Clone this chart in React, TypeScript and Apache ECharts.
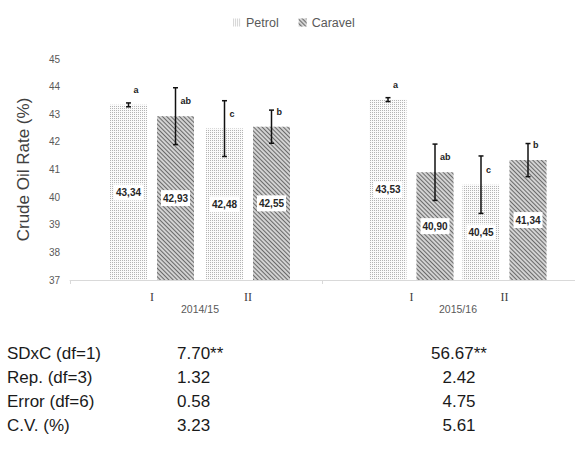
import React, { useEffect, useRef } from "react";
import * as echarts from "echarts";

// ---- data ----
const seriesNames = ["Petrol", "Caravel"];
const categories = ["I", "II"];
const years = ["2014/15", "2015/16"];

const petrol2014 = [43.34, 42.48];
const caravel2014 = [42.93, 42.55];
const petrol2015 = [43.53, 40.45];
const caravel2015 = [40.9, 41.34];

const petrolErr2014 = [0.07, 1.01];
const caravelErr2014 = [1.03, 0.6];
const petrolErr2015 = [0.07, 1.04];
const caravelErr2015 = [1.02, 0.6];

const petrolLetters2014 = ["a", "c"];
const caravelLetters2014 = ["ab", "b"];
const petrolLetters2015 = ["a", "c"];
const caravelLetters2015 = ["ab", "b"];

const yTicks = [37, 38, 39, 40, 41, 42, 43, 44, 45];

const tableRows = ["SDxC (df=1)", "Rep. (df=3)", "Error (df=6)", "C.V. (%)"];
const table2014 = ["7.70**", "1.32", "0.58", "3.23"];
const table2015 = ["56.67**", "2.42", "4.75", "5.61"];

// ---- styles ----
const BAR_W = 37;
const BAR_GAP = 10;
const SANS = "Liberation Sans, Arial, sans-serif";

const petrolStyle = {
  color: "#fbfbfb",
  decal: {
    symbol: "rect",
    symbolSize: 1,
    dashArrayX: [1, 1],
    dashArrayY: [1, 1],
    color: "#b4b4b4",
  },
};
const caravelStyle = {
  color: "#d2d2d2",
  decal: {
    symbol: "rect",
    symbolSize: 1,
    dashArrayX: [1, 0],
    dashArrayY: [1, 1.2],
    rotation: Math.PI / 4,
    color: "#6a6a6a",
  },
};

const fmt = (v: number) => v.toFixed(2).replace(".", ",");

function barSeries(name: string, data: number[], axis: number, style: any) {
  return {
    type: "bar",
    name,
    xAxisIndex: axis,
    yAxisIndex: axis,
    data,
    barWidth: BAR_W,
    barGap: `${Math.round((BAR_GAP / BAR_W) * 100)}%`,
    itemStyle: style,
    label: {
      show: true,
      position: "inside",
      formatter: (p: any) => fmt(p.value),
      backgroundColor: "#ffffff",
      padding: [3, 2],
      fontWeight: "bold",
      fontSize: 10,
      fontFamily: SANS,
      color: "#262626",
    },
  };
}

function errSeries(
  name: string,
  values: number[],
  errs: number[],
  letters: string[],
  axis: number,
  side: number
) {
  const offset = (side * (BAR_W + BAR_GAP)) / 2;
  return {
    type: "custom",
    name,
    xAxisIndex: axis,
    yAxisIndex: axis,
    z: 5,
    data: values.map((v, i) => [i, v, errs[i]]),
    renderItem: (params: any, api: any) => {
      const i = api.value(0);
      const v = api.value(1);
      const e = api.value(2);
      const base = api.coord([i, v]);
      const x = base[0] + offset;
      const yTop = api.coord([i, v + e])[1];
      const yBot = api.coord([i, v - e])[1];
      const st = { stroke: "#111", lineWidth: 1.5 };
      return {
        type: "group",
        children: [
          { type: "line", shape: { x1: x, y1: yTop, x2: x, y2: yBot }, style: st },
          { type: "line", shape: { x1: x - 2.5, y1: yTop, x2: x + 2.5, y2: yTop }, style: st },
          { type: "line", shape: { x1: x - 2.5, y1: yBot, x2: x + 2.5, y2: yBot }, style: st },
          {
            type: "text",
            x: x + 5,
            y: base[1] - 15,
            style: {
              text: letters[params.dataIndex],
              fill: "#222",
              fontSize: 9,
              fontWeight: "bold",
              fontFamily: SANS,
              align: "left",
              verticalAlign: "middle",
            },
          },
        ],
      };
    },
  };
}

export default function App() {
  const ref = useRef<HTMLDivElement>(null);

  useEffect(() => {
    if (!ref.current) return;
    const chart = echarts.init(ref.current, null, { renderer: "svg" });

    const gridTop = 59;
    const gridBottom = 172;

    const hiddenY = (gi: number) => ({
      type: "value",
      gridIndex: gi,
      min: yTicks[0],
      max: yTicks[yTicks.length - 1],
      interval: 1,
      show: false,
    });

    const catX = (gi: number, year: string) => ({
      type: "category",
      gridIndex: gi,
      data: categories,
      axisLine: { show: false },
      axisTick: { show: false },
      axisLabel: {
        fontFamily: "Liberation Serif, DejaVu Serif, serif",
        fontSize: 12,
        color: "#404040",
        margin: 11,
      },
      name: year,
      nameLocation: "middle",
      nameGap: 23,
      nameTextStyle: { fontSize: 10.5, color: "#595959", fontFamily: SANS },
    });

    const rowY = [353, 377, 401, 425];
    const tableFont = { fontSize: 17, fontFamily: SANS, fill: "#1a1a1a" };
    const graphic: any[] = [];
    tableRows.forEach((r, i) => {
      graphic.push({
        type: "text",
        x: 7,
        y: rowY[i],
        style: { ...tableFont, text: r, align: "left", verticalAlign: "middle" },
      });
      graphic.push({
        type: "text",
        x: 177,
        y: rowY[i],
        style: { ...tableFont, text: table2014[i], align: "left", verticalAlign: "middle" },
      });
      graphic.push({
        type: "text",
        x: 459,
        y: rowY[i],
        style: { ...tableFont, text: table2015[i], align: "center", verticalAlign: "middle" },
      });
    });

    chart.setOption({
      animation: false,
      backgroundColor: "#ffffff",
      legend: {
        data: seriesNames,
        left: 228,
        top: 11,
        icon: "rect",
        itemWidth: 8,
        itemHeight: 8,
        itemGap: 20,
        textStyle: { fontSize: 12.5, color: "#595959", fontFamily: SANS },
      },
      grid: [
        { left: 70, right: 0, top: gridTop, bottom: gridBottom },
        { left: 104, width: 192, top: gridTop, bottom: gridBottom },
        { left: 365, width: 186, top: gridTop, bottom: gridBottom },
      ],
      xAxis: [
        {
          type: "category",
          gridIndex: 0,
          data: years,
          axisLine: { show: true, lineStyle: { color: "#d9d9d9", width: 1 } },
          axisTick: { show: true, length: 4, lineStyle: { color: "#d9d9d9" } },
          axisLabel: { show: false },
        },
        catX(1, years[0]),
        catX(2, years[1]),
      ],
      yAxis: [
        {
          type: "value",
          gridIndex: 0,
          min: yTicks[0],
          max: yTicks[yTicks.length - 1],
          interval: 1,
          axisLine: { show: false },
          axisTick: { show: false },
          splitLine: { show: false },
          axisLabel: {
            fontSize: 10,
            color: "#595959",
            fontFamily: SANS,
            margin: 10,
          },
          name: "Crude Oil Rate (%)",
          nameLocation: "middle",
          nameGap: 38,
          nameTextStyle: { fontSize: 17, color: "#404040", fontFamily: SANS },
        },
        hiddenY(1),
        hiddenY(2),
      ],
      series: [
        barSeries("Petrol", petrol2014, 1, petrolStyle),
        barSeries("Caravel", caravel2014, 1, caravelStyle),
        barSeries("Petrol", petrol2015, 2, petrolStyle),
        barSeries("Caravel", caravel2015, 2, caravelStyle),
        errSeries("Petrol err 2014", petrol2014, petrolErr2014, petrolLetters2014, 1, -1),
        errSeries("Caravel err 2014", caravel2014, caravelErr2014, caravelLetters2014, 1, 1),
        errSeries("Petrol err 2015", petrol2015, petrolErr2015, petrolLetters2015, 2, -1),
        errSeries("Caravel err 2015", caravel2015, caravelErr2015, caravelLetters2015, 2, 1),
      ],
      graphic,
    });

    return () => chart.dispose();
  }, []);

  return (
    <div
      ref={ref}
      style={{ position: "fixed", left: 0, top: 0, width: 575, height: 452, background: "#fff" }}
    />
  );
}
